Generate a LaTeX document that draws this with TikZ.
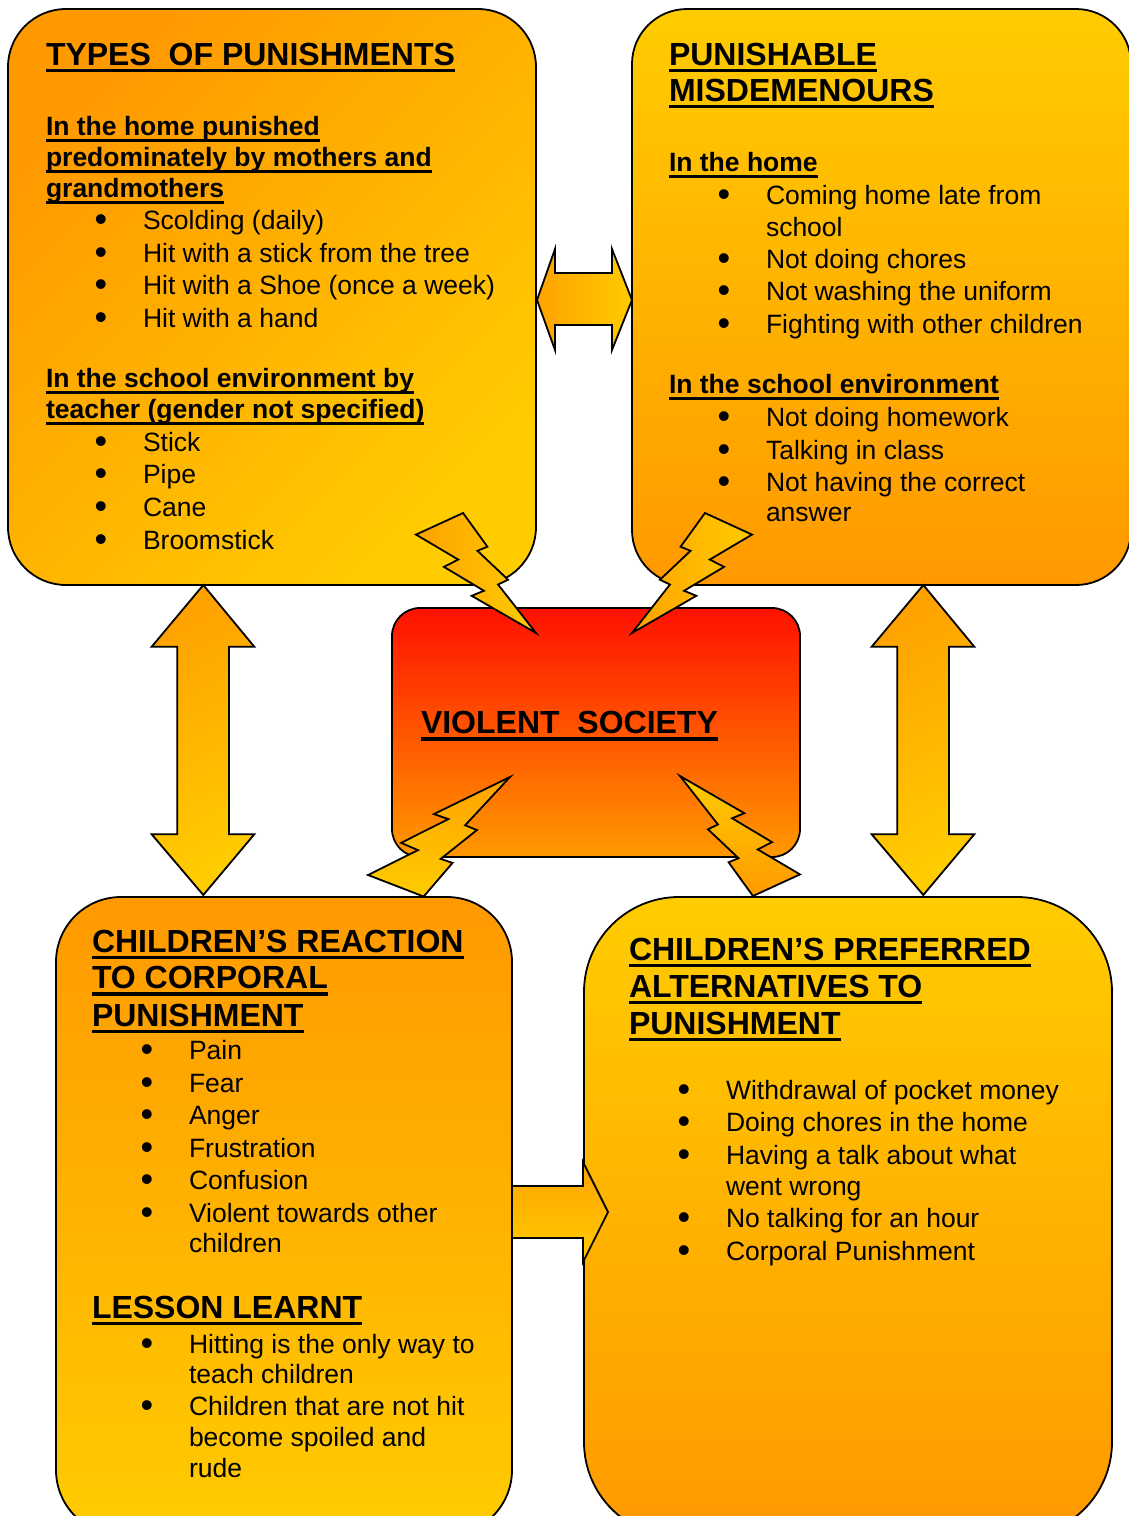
\documentclass[tikz,border=0pt]{standalone}
\usepackage{fontspec}
\setmainfont{Liberation Sans}
\definecolor{yel}{HTML}{FFCC00}
\definecolor{org}{HTML}{FF9900}
\definecolor{orgA}{HTML}{FFA200}
\definecolor{redA}{HTML}{FF1100}
\newcommand\ulT[1]{\setbox0=\hbox{#1}\rlap{\rule[-7.3pt]{\wd0}{3.4pt}}\box0}
\newcommand\ulH[1]{\setbox0=\hbox{#1}\rlap{\rule[-6.5pt]{\wd0}{2.8pt}}\box0}
\newcommand\tTitle[1]{{\fontsize{32}{36}\selectfont\bfseries\ulT{#1}}}
\newcommand\tHead[1]{{\bfseries\ulH{#1}}}
\newcommand\tBul[1]{\hspace*{48.5pt}\makebox[48.5pt][l]{\smash{\raisebox{-2pt}{\fontsize{36}{36}\selectfont\textbullet}}}#1}
\newcommand\tCont[1]{\hspace*{97pt}#1}
\tikzset{
  box/.style={draw=black, line width=1.8pt, inner sep=0pt, outer sep=0pt},
  blk/.style={draw=black, line width=1.8pt, line join=miter},
  txt/.style={anchor=base west, inner sep=0pt, outer sep=0pt, font=\fontsize{26.5}{30}\selectfont}
}
\begin{document}
\begin{tikzpicture}[x=1pt, y=-1pt]
\useasboundingbox (0,0) rectangle (1129,1516);
% boxes
\node[box, minimum width=528pt, minimum height=576pt, rounded corners=58pt,
      top color=org, bottom color=yel, shading angle=45] (tl) at (272,297) {};
\node[box, minimum width=499pt, minimum height=576pt, rounded corners=55pt,
      top color=yel, bottom color=org] (tr) at (881.5,297) {};
\node[box, minimum width=408pt, minimum height=249pt, rounded corners=28pt,
      top color=redA, bottom color=org] (vs) at (596,732.5) {};
\node[box, minimum width=456pt, minimum height=638pt, rounded corners=65pt,
      top color=org, bottom color=yel] (bl) at (284,1216) {};
\node[box, minimum width=528pt, minimum height=640pt, rounded corners=95pt,
      top color=yel, bottom color=org] (br) at (848,1217) {};
% block arrows
\shadedraw[blk, left color=orgA, right color=yel]
  (537,300) -- (555,249) -- (555,273) -- (612,273) -- (612,249) -- (632,300)
  -- (612,350) -- (612,325) -- (555,325) -- (555,350) -- cycle;
\shadedraw[blk, top color=orgA, bottom color=yel, shading angle=30]
  (203.3,585) -- (254.3,646.7) -- (229,646.7) -- (229,834.3) -- (254.3,834.3)
  -- (203.3,895) -- (151.7,834.3) -- (177.3,834.3) -- (177.3,646.7) -- (151.7,646.7) -- cycle;
\shadedraw[blk, top color=orgA, bottom color=yel, shading angle=30]
  (923.3,585) -- (974.3,646.7) -- (949,646.7) -- (949,834.3) -- (974.3,834.3)
  -- (923.3,895) -- (871.7,834.3) -- (897.3,834.3) -- (897.3,646.7) -- (871.7,646.7) -- cycle;
\shadedraw[blk, top color=orgA, bottom color=yel]
  (512,1186) -- (583,1186) -- (583,1162) -- (608,1212) -- (583,1262) -- (583,1238) -- (512,1238) -- cycle;
% lightning bolts
\newcommand\boltpath{(0.392,0) -- (0.595,0.281) -- (0.512,0.315) -- (0.767,0.556) -- (0.684,0.596) -- (1,1) -- (0.464,0.690) -- (0.566,0.648) -- (0.233,0.449) -- (0.352,0.388) -- (0,0.180) -- cycle}
\shadedraw[blk, x={(120pt,0pt)}, y={(0pt,-120pt)}, shift={(416pt,-513pt)},
  left color=orgA, right color=yel] \boltpath;
\shadedraw[blk, x={(-120pt,0pt)}, y={(0pt,-120pt)}, shift={(752pt,-513pt)},
  left color=orgA, right color=yel] \boltpath;
\shadedraw[blk, x={(142pt,0pt)}, y={(0pt,119.5pt)}, shift={(368pt,-896.5pt)},
  top color=orgA, bottom color=yel] \boltpath;
\shadedraw[blk, x={(-120pt,0pt)}, y={(0pt,120pt)}, shift={(800pt,-896pt)},
  top color=yel, bottom color=org] \boltpath;
% texts
\foreach \yy/\lntext [count=\i] in {
  65/{\tTitle{TYPES\ \ OF PUNISHMENTS}},
  135.3/{\tHead{In the home punished}},
  166/{\tHead{predominately by mothers and}},
  197.2/{\tHead{grandmothers}},
  229.7/{\tBul{Scolding (daily)}},
  262.2/{\tBul{Hit with a stick from the tree}},
  294.5/{\tBul{Hit with a Shoe (once a week)}},
  327.5/{\tBul{Hit with a hand}},
  387/{\tHead{In the school environment by}},
  418.5/{\tHead{teacher (gender not specified)}},
  451.7/{\tBul{Stick}},
  483.8/{\tBul{Pipe}},
  516/{\tBul{Cane}},
  549/{\tBul{Broomstick}}}
  \node[txt] (tl\i) at (46,\yy) {\lntext};
\foreach \yy/\lntext [count=\i] in {
  65/{\tTitle{PUNISHABLE}},
  101/{\tTitle{MISDEMENOURS}},
  171/{\tHead{In the home}},
  204.5/{\tBul{Coming home late from}},
  236.5/{\tCont{school}},
  268/{\tBul{Not doing chores}},
  300.5/{\tBul{Not washing the uniform}},
  333/{\tBul{Fighting with other children}},
  393.5/{\tHead{In the school environment}},
  426.7/{\tBul{Not doing homework}},
  459/{\tBul{Talking in class}},
  491.7/{\tBul{Not having the correct}},
  521.5/{\tCont{answer}}}
  \node[txt] (tr\i) at (669,\yy) {\lntext};
\node[txt] (vst) at (421,733.5) {\tTitle{VIOLENT\ \ SOCIETY}};
\foreach \yy/\lntext [count=\i] in {
  952/{\tTitle{CHILDREN’S REACTION}},
  988.5/{\tTitle{TO CORPORAL}},
  1026/{\tTitle{PUNISHMENT}},
  1059.5/{\tBul{Pain}},
  1092/{\tBul{Fear}},
  1124.5/{\tBul{Anger}},
  1157/{\tBul{Frustration}},
  1189.5/{\tBul{Confusion}},
  1222/{\tBul{Violent towards other}},
  1252.5/{\tCont{children}},
  1318/{\tTitle{LESSON LEARNT}},
  1353.5/{\tBul{Hitting is the only way to}},
  1383.5/{\tCont{teach children}},
  1415.5/{\tBul{Children that are not hit}},
  1446.5/{\tCont{become spoiled and}},
  1477/{\tCont{rude}}}
  \node[txt] (bl\i) at (92,\yy) {\lntext};
\foreach \yy/\lntext [count=\i] in {
  960/{\tTitle{CHILDREN’S PREFERRED}},
  997/{\tTitle{ALTERNATIVES TO}},
  1034/{\tTitle{PUNISHMENT}},
  1099.5/{\tBul{Withdrawal of pocket money}},
  1131/{\tBul{Doing chores in the home}},
  1164/{\tBul{Having a talk about what}},
  1195/{\tCont{went wrong}},
  1227.5/{\tBul{No talking for an hour}},
  1260/{\tBul{Corporal Punishment}}}
  \node[txt] (br\i) at (629,\yy) {\lntext};
\end{tikzpicture}
\end{document}
